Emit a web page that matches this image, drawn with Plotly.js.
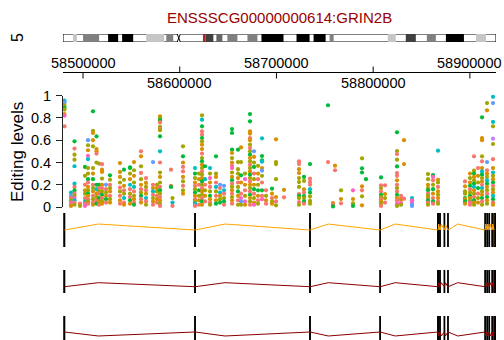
<!DOCTYPE html>
<html><head><meta charset="utf-8">
<script src="https://cdn.plot.ly/plotly-3.0.1.min.js"></script>
<style>html,body{margin:0;padding:0;background:#fff}#chart{width:504px;height:340px}</style>
</head><body><div id="chart"></div>
<script>
const FONT = 'Liberation Sans, Arial, Helvetica, sans-serif';
const W = 504, H = 340;
const py = p => 1 - p / H;
const pxp = p => p / W;

// ---------- data ----------
const geneTitle = 'ENSSSCG00000000614:GRIN2B';
const chromName = '5';
const region = [58479300, 58927000];
const axisTicks = [58500000, 58600000, 58700000, 58800000, 58900000];
const levelTicks = [0, 0.2, 0.4, 0.6, 0.8, 1];
const levelTickText = ['0', '0.2', '0.4', '0.6', '0.8', '1'];

// editing sites (genomic position), levels per site and sample code per level
const sitePos = [58480850,58487570,58491190,58496880,58502050,58505150,58510320,58513960,58516520,58519630,
  58523760,58527900,58538240,58542370,58548580,58552710,58559950,58565120,58572360,58576500,
  58579600,58590970,58592520,58603380,58615790,58619920,58623030,58626130,58631300,58637500,
  58641640,58645770,58654050,58660250,58663350,58667490,58672660,58676790,58680930,58685070,
  58689200,58695410,58699540,58707810,58723320,58728490,58734700,58753320,58758490,58760560,
  58766760,58779170,58788470,58792600,58808110,58812250,58824660,58828800,58831890,58840170,
  58856710,58861880,58867050,58894970,58900140,58904270,58908410,58912550,58917720,58923920];
const siteLevels = [
  [0.955,0.94,0.91,0.89,0.875,0.835,0.82,0.725],
  [0.13,0.1,0.08,0.06,0.04,0.02,0.01],
  [0.59,0.525,0.47,0.425,0.366,0.21,0.18,0.15,0.12,0.1,0.08,0.06,0.04,0.02],
  [0.03,0.01],
  [0.36,0.28,0.2,0.15,0.12,0.08,0.05,0.03,0.01],
  [0.6,0.555,0.51,0.46,0.43,0.35,0.3,0.25,0.22,0.18,0.15,0.12,0.1,0.07,0.05,0.03],
  [0.86,0.685,0.665,0.6,0.545,0.35,0.3,0.25,0.2,0.17,0.14,0.1,0.07,0.04,0.02],
  [0.635,0.52,0.5,0.48,0.4,0.2,0.16,0.12,0.09,0.06,0.03],
  [0.39,0.2,0.17,0.14,0.12,0.08,0.05,0.02],
  [0.385,0.335,0.315,0.255,0.2,0.17,0.14,0.11,0.08,0.05,0.03],
  [0.2,0.16,0.13,0.1,0.07,0.04],
  [0.285,0.245,0.2,0.17,0.14,0.1,0.07,0.04],
  [0.395,0.315,0.27,0.22,0.175,0.14,0.1,0.06,0.03],
  [0.335,0.245,0.19,0.15,0.12,0.08,0.04,0.02],
  [0.357,0.35,0.3,0.25,0.2,0.16,0.12,0.09,0.06,0.03],
  [0.404,0.33,0.28,0.22,0.18,0.14,0.1,0.07,0.04,0.02],
  [0.5,0.455,0.366,0.306,0.25,0.2,0.16,0.13,0.1,0.07,0.04],
  [0.26,0.216,0.18,0.15,0.12,0.08,0.05,0.02],
  [0.404,0.2,0.17,0.14,0.11,0.08,0.05,0.02],
  [0.2,0.17,0.14,0.1,0.07,0.04],
  [0.815,0.8,0.78,0.76,0.72,0.7,0.69,0.635,0.5,0.4,0.31,0.27,0.22,0.18,0.15,0.12,0.09,0.06,0.03,0.01],
  [0.335,0.19,0.18],
  [0.08,0.04,0.01],
  [0.545,0.455,0.4,0.36,0.32,0.27,0.23,0.19,0.15,0.12],
  [0.35,0.3,0.26,0.22,0.19,0.16,0.13,0.1,0.07,0.05,0.03,0.01],
  [0.3,0.25,0.2,0.15,0.1,0.06,0.02],
  [0.824,0.785,0.725,0.68,0.65,0.62,0.59,0.56,0.52,0.48,0.44,0.41,0.38,0.35,0.32,0.29,0.26,0.23,0.2,0.17,0.14,0.11,0.08,0.05,0.02],
  [0.366,0.25,0.2,0.15,0.1,0.05],
  [0.35,0.3,0.26,0.22,0.18,0.14,0.1,0.07,0.04,0.02],
  [0.455,0.3,0.27,0.22,0.18,0.14,0.1,0.06,0.03],
  [0.2,0.17,0.13,0.1,0.07,0.04],
  [0.19,0.15,0.12,0.08,0.05,0.02],
  [0.7,0.665,0.515,0.485,0.44,0.4,0.373,0.35,0.31,0.27,0.24,0.21,0.18,0.15,0.12,0.09,0.06,0.03],
  [0.515,0.404,0.34,0.3,0.26,0.22,0.18,0.14,0.1,0.06,0.02],
  [0.535,0.404,0.285,0.22,0.12,0.08,0.05,0.02],
  [0.3,0.25,0.2,0.15,0.1,0.05,0.02],
  [0.835,0.77,0.68,0.66,0.62,0.6,0.56,0.53,0.5,0.47,0.44,0.41,0.38,0.35,0.32,0.29,0.26,0.23,0.2,0.17,0.14,0.11,0.08,0.05,0.02],
  [0.5,0.45,0.4,0.36,0.3,0.25,0.2,0.16,0.12,0.08,0.04,0.02],
  [0.37,0.3,0.25,0.2,0.15,0.1,0.06,0.03],
  [0.617,0.458,0.42,0.407,0.35,0.326,0.28,0.22,0.15,0.1,0.07],
  [0.15,0.1,0.06,0.03],
  [0.165,0.12,0.08,0.05,0.03],
  [0.608,0.404,0.386,0.25,0.09,0.05,0.015],
  [0.153,0.087],
  [0.41,0.386,0.34,0.305,0.26,0.224,0.18,0.117,0.1,0.08,0.045,0.02],
  [0.27,0.234,0.159,0.13,0.099,0.08,0.05,0.03],
  [0.386,0.255,0.225,0.2,0.16,0.13,0.095,0.055,0.03],
  [0.914,0.404],
  [0.035,0.02,0.005],
  [0.371,0.33],
  [0.15,0.072,0.033],
  [0.15,0.072,0.033,0.01],
  [0.437,0.348,0.31,0.186,0.15,0.096,0.015],
  [0.25],
  [0.266,0.195,0.17,0.14,0.11,0.09,0.07,0.05,0.03,0.01],
  [0.195,0.117,0.08,0.04],
  [0.671,0.503,0.476,0.425,0.365,0.305,0.28,0.24,0.2,0.17,0.14,0.11,0.08,0.06,0.03,0.01],
  [0.1,0.075,0.063,0.036,0.02],
  [0.6,0.386,0.075],
  [0.08,0.06,0.04,0.02,0.01],
  [0.296,0.25,0.2,0.17,0.15,0.12,0.1,0.08,0.06,0.04,0.02],
  [0.287,0.27,0.24,0.2,0.16,0.12,0.08,0.05,0.03],
  [0.506,0.245,0.22,0.18,0.14,0.11,0.08,0.05,0.03],
  [0.23,0.186,0.14,0.12,0.08,0.07,0.05,0.03],
  [0.3,0.26,0.22,0.19,0.16,0.13,0.1,0.08,0.06,0.04,0.02],
  [0.455,0.326,0.3,0.27,0.24,0.21,0.18,0.15,0.12,0.09,0.06,0.04,0.02],
  [0.35,0.28,0.22,0.17,0.12,0.08,0.04],
  [0.806,0.62,0.6,0.455,0.41,0.35,0.32,0.29,0.26,0.23,0.2,0.17,0.14,0.11,0.08,0.05,0.02],
  [0.934,0.869,0.404,0.33,0.3,0.27,0.24,0.21,0.18,0.15,0.12,0.09,0.06,0.03],
  [0.99,0.934,0.764,0.725,0.614,0.566,0.43,0.35,0.31,0.28,0.25,0.22,0.19,0.16,0.13,0.1,0.07,0.04,0.02]
];
const siteSamples = ['cbvgvops','cbsvpso','gsvvccsgsvpcsv','sv','gvsovscsp','bvopcvvgsovgosvs','gvoovvogsvosvso',
  'goosvgcovsg','vgsvsgos','soovosvgsvo','bsvogs','gvsvosvo','ooovsvsos','gvosvcso','ggvocsvsgo','ovovcsvosg',
  'sovsvosvgso','sovsocsv','bsocsvos','vovsos','ovgsvsvgcsvovsgvsovs','ssg','vcs','vgossovsvo','cgvosvgosvcs',
  'vosgvos','vcgssgvoosvgovsvogvsovsgo','gcsvos','cvposvgosv','gvoscvsog','bscovg','bcsvgs','gggovospvogsvosvos',
  'gvvvosvgosv','ovgospbv','vposvpo','ggoosovsvgovsvogvsovsgovs','bovgsvogsvop','vosvgosv','cggcobvsgsp','svos',
  'gosvo','ovvvosv','os','ssoovvvsgvsv','gvosgvgs','gssscgvvv','gs','osg','os','vos','povg','vggosvo','g',
  'gsvsgvsovs','sovs','gvsvgssosvsgospv','ssopv','oos','cppbb','vvovgsvogsv','gpsvgosgs','covsovosv','sovvgogo',
  'ovogsvgovps','svgovgcovsgov','sovgsvo','goovsocgvoscvogsv','vobsovcgovsgov','cbcvuvsocvogsvocgso'];
const samplePalette = {s:'#F8766D', o:'#D89000', v:'#A3A500', g:'#00BA38', c:'#00BFC4', b:'#619CFF', p:'#FF61C3', u:'#C77CFF'};

// gene model (same exons in the three transcripts)
const exonStarts = [58480300,58615600,58734500,58807000,58866800,58868900,58873500,58877200,58915600,58917700,58919800,58922900,58924900];
const exonEnds   = [58480900,58616000,58734900,58807300,58867300,58869300,58873800,58877500,58915900,58918000,58920100,58923200,58926600];
const transcriptColors = ['#FFA500', '#8B0000', '#8B0000'];

// ideogram bands (Mb)
const chromLength = 180;
const bandStart = [4.17,8.33,18.75,24.58,34.58,42.92,59.2,63.75,68.33,76.67,82.5,97.08,104.17,110.83,135,142.5,151.25,159.17,171.67];
const bandEnd   = [5.83,15,22.92,29.17,42.08,45.83,62.5,66.25,72.5,80.83,91.67,102.5,109.17,112.5,138.33,146.67,155,166.67,175.83];
const bandStain = ['gpos25','gpos50','gpos100','gpos100','gpos25','gpos50','gpos75','gpos66','gpos50','gpos50','gpos100','gpos100','gpos100','gpos50','gpos25','gpos75','gpos50','gpos100','gpos25'];
const stainColor = {gpos25:'#c6c6c6', gpos50:'#808080', gpos66:'#666666', gpos75:'#404040', gpos100:'#000000'};
const centromere = [47.5, 48.75];

// ---------- build ----------
const xs = [], ys = [], cols = [];
sitePos.forEach((p, i) => {
  siteLevels[i].forEach((v, j) => {
    xs.push(p); ys.push(v);
    cols.push(samplePalette[siteSamples[i][j]] || samplePalette.s);
  });
});

const traces = [{
  type: 'scatter', mode: 'markers', x: xs, y: ys, xaxis: 'x', yaxis: 'y',
  marker: {size: 4.2, color: cols, line: {width: 0}}, cliponaxis: false, hoverinfo: 'skip', showlegend: false
}];

const trackGeom = [
  {axis: 'y2', base: 0.5, peak: 0.676},
  {axis: 'y3', base: 0.274, peak: 0.448},
  {axis: 'y4', base: 0.333, peak: 0.167}
];
const shapes = [];
trackGeom.forEach((t, k) => {
  const ix = [], iy = [];
  for (let i = 0; i < exonStarts.length - 1; i++) {
    const a = exonEnds[i], b = exonStarts[i + 1];
    ix.push(a, a + 0.26 * (b - a), b, null);
    iy.push(t.base, t.peak, t.base, null);
  }
  traces.push({type: 'scatter', mode: 'lines', x: ix, y: iy, xaxis: 'x', yaxis: t.axis,
    line: {color: transcriptColors[k], width: 1}, hoverinfo: 'skip', showlegend: false, cliponaxis: false});
  exonStarts.forEach((s, i) => {
    shapes.push({type: 'rect', xref: 'x', yref: t.axis, x0: s, x1: exonEnds[i], y0: 0, y1: 1,
      fillcolor: transcriptColors[k], line: {color: '#000', width: 1.5}, layer: 'below'});
  });
});
traces.push({type: 'scatter', mode: 'markers', x: [0], y: [0], xaxis: 'x2', yaxis: 'y5',
  marker: {opacity: 0}, hoverinfo: 'skip', showlegend: false});

// ideogram
shapes.push({type: 'rect', xref: 'x2', yref: 'y5', x0: 0, x1: chromLength, y0: 0, y1: 1,
  fillcolor: '#fff', line: {color: '#000', width: 1}});
bandStart.forEach((s, i) => {
  shapes.push({type: 'rect', xref: 'x2', yref: 'y5', x0: s, x1: bandEnd[i], y0: 0, y1: 1,
    fillcolor: stainColor[bandStain[i]], line: {width: 0}});
});
shapes.push({type: 'rect', xref: 'x2', yref: 'y5', x0: centromere[0], x1: centromere[1], y0: -0.2, y1: 1.2,
  fillcolor: '#fff', line: {width: 0}});
shapes.push({type: 'line', xref: 'x2', yref: 'y5', x0: centromere[0], x1: centromere[1], y0: 1, y1: 0, line: {color: '#000', width: 1}});
shapes.push({type: 'line', xref: 'x2', yref: 'y5', x0: centromere[0], x1: centromere[1], y0: 0, y1: 1, line: {color: '#000', width: 1}});
shapes.push({type: 'rect', xref: 'x2', yref: 'y5', x0: region[0] / 1e6, x1: region[1] / 1e6, y0: -0.3, y1: 1.3,
  fillcolor: 'rgba(0,0,0,0)', line: {color: '#B22222', width: 1.5}});

// genome axis
const axY = py(72.5);
shapes.push({type: 'line', xref: 'x', yref: 'paper', x0: region[0], x1: region[1], y0: axY, y1: axY, line: {color: '#000', width: 1}});
const annotations = [];
axisTicks.forEach((t, i) => {
  const down = i % 2 === 0;
  shapes.push({type: 'line', xref: 'x', yref: 'paper', x0: t, x1: t, y0: axY, y1: down ? py(78.5) : py(66.5), line: {color: '#000', width: 1}});
  annotations.push({xref: 'x', yref: 'paper', x: t, y: down ? py(63) : py(82.5), text: String(t), showarrow: false,
    xanchor: 'center', yanchor: 'middle', font: {family: FONT, size: 14.5, color: '#000'}});
});
annotations.push({xref: 'paper', yref: 'paper', x: pxp(279), y: py(17.5), text: geneTitle, showarrow: false,
  xanchor: 'center', yanchor: 'middle', font: {family: FONT, size: 15, color: '#990000'}});
annotations.push({xref: 'paper', yref: 'paper', x: pxp(17), y: py(38), text: chromName, showarrow: false, textangle: -90,
  xanchor: 'center', yanchor: 'middle', font: {family: FONT, size: 16, color: '#000'}});
annotations.push({xref: 'paper', yref: 'paper', x: pxp(17.5), y: py(152.5), text: 'Editing levels', showarrow: false, textangle: -90,
  xanchor: 'center', yanchor: 'middle', font: {family: FONT, size: 17, color: '#000'}});

const xdom = [pxp(63), pxp(496)];
const hidden = {visible: false, showgrid: false, zeroline: false, fixedrange: true};
const layout = {
  width: W, height: H, margin: {l: 0, r: 0, t: 0, b: 0}, paper_bgcolor: '#fff', plot_bgcolor: 'rgba(0,0,0,0)',
  showlegend: false, font: {family: FONT, color: '#000'},
  xaxis: Object.assign({}, hidden, {domain: xdom, range: region, anchor: 'y'}),
  yaxis: {domain: [py(207), py(95.7)], range: [0, 1], anchor: 'x', showline: true, linecolor: '#222', linewidth: 1,
    ticks: 'outside', ticklen: 6, tickcolor: '#222', tickwidth: 1, tickvals: levelTicks, ticktext: levelTickText,
    tickfont: {family: FONT, size: 14.5, color: '#000'}, ticklabelstandoff: 2, showgrid: false, zeroline: false, fixedrange: true},
  yaxis2: Object.assign({}, hidden, {domain: [py(247), py(213)], range: [0, 1], anchor: 'x'}),
  yaxis3: Object.assign({}, hidden, {domain: [py(293), py(270)], range: [0, 1], anchor: 'x'}),
  yaxis4: Object.assign({}, hidden, {domain: [0, py(316)], range: [0, 1], anchor: 'x'}),
  xaxis2: Object.assign({}, hidden, {domain: xdom, range: [0, chromLength], anchor: 'y5'}),
  yaxis5: Object.assign({}, hidden, {domain: [py(42), py(34)], range: [0, 1], anchor: 'x2'}),
  shapes: shapes, annotations: annotations
};
Plotly.newPlot('chart', traces, layout, {displayModeBar: false, staticPlot: true});
</script></body></html>
